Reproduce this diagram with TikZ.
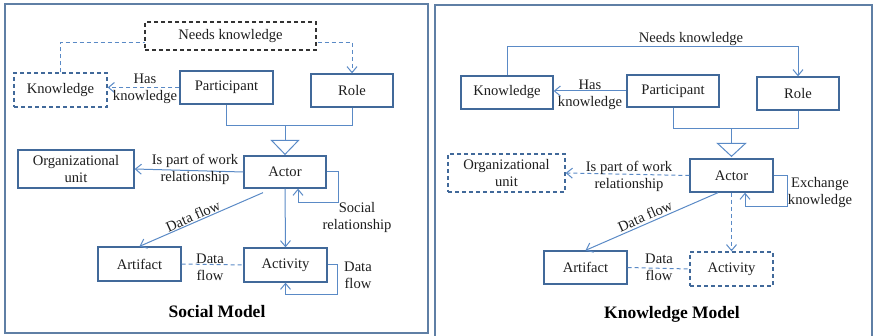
\documentclass[tikz,border=0pt]{standalone}
\usepackage{fontspec}
\setmainfont{Liberation Serif}
\usetikzlibrary{arrows.meta,calc}

\definecolor{boxblue}{HTML}{41699A}
\definecolor{lineblue}{HTML}{5A8AC6}
\definecolor{framegray}{HTML}{5F7FA5}
\definecolor{inkgray}{HTML}{1E1E1E}

\tikzset{
  box/.style={draw=boxblue, line width=1.3pt, inner sep=0pt, align=center,
    text=inkgray, font=\fontsize{14.6}{17}\selectfont},
  dbox/.style={box, dash pattern=on 4pt off 3pt},
  needsbox/.style={box, draw=black!80, line width=1.1pt, fill=white,
    dash pattern=on 4pt off 3pt},
  link/.style={draw=lineblue, line width=1pt},
  dlink/.style={link, dash pattern=on 4pt off 3pt},
  tip/.style={-{Straight Barb[length=6pt,width=10pt]}},
  lbl/.style={text=inkgray, font=\fontsize{14.6}{17}\selectfont, align=center, inner sep=0pt},
  title/.style={font=\fontsize{17.5}{20}\selectfont\bfseries, text=black, inner sep=0pt},
  panel/.style={draw=framegray, line width=1.5pt},
}

\begin{document}
\begin{tikzpicture}[x=1pt, y=-1pt]
\useasboundingbox (0,0) rectangle (873,336);

% ---------------- panel frames ----------------
\draw[panel] (5,4) rectangle (428,333);
\draw[panel] (435,5) rectangle (872,350);

% ================= Social model =================
\node[dbox, minimum width=93pt, minimum height=34pt] (K1) at (60.5,90) {Knowledge};
\node[box, minimum width=93pt, minimum height=33pt] (P1) at (226.5,87.5) {Participant};
\node[box, minimum width=82pt, minimum height=33pt] (R1) at (352,90.5) {Role};
\node[box, minimum width=116pt, minimum height=38pt] (O1) at (76,169) {Organizational\\unit};
\node[box, minimum width=82pt, minimum height=32pt] (A1) at (285,172) {Actor};
\node[box, minimum width=83pt, minimum height=34pt] (Art1) at (139.5,264) {Artifact};
\node[box, minimum width=83pt, minimum height=34pt] (Act1) at (285.5,265) {Activity};

% needs knowledge (dashed, label box drawn over the line)
\draw[dlink, tip] (K1.north) -- ++(0,-30) -| (R1.north);
\node[needsbox, minimum width=171pt, minimum height=28pt] (N1) at (230.5,36) {Needs knowledge};

% has knowledge
\draw[dlink, tip] (P1.west) -- (K1.east |- P1.west);
\node[lbl] (hk1) at (145,88.5) {Has\\knowledge};

% generalisation of participant and role into actor
\coordinate (j1) at ($(A1.north)+(0,-30)$);
\draw[link] (P1.south) |- (j1) -| (R1.south);
\draw[link] (j1) -- ($(A1.north)+(0,-15)$);
\draw[link] ($(A1.north)+(-13.5,-15)$) -- ($(A1.north)+(13.5,-15)$) -- ($(A1.north)+(0,-1)$) -- cycle;

% is part of work relationship
\draw[link, tip] (A1.west) -- (O1.east);
\node[lbl] (pw1) at (195,169.5) {Is part of work\\relationship};

% social relationship loop
\draw[link, tip] (A1.east) -| ++(12,31) -| ($(A1.south)+(13,0)$);
\node[lbl] (sr1) at (357,217) {Social\\relationship};

% data flow actor -> artifact
\draw[link, tip] ($(A1.south)+(-22,4)$) -- (Art1.north);
\node[lbl, rotate=24] (df1) at (193,216) {Data flow};

% actor -> activity
\draw[link, tip] (A1.south) -- (Act1.north);

% artifact -- activity
\draw[dlink] (Art1.east) -- (Act1.west);
\node[lbl] (df2) at (210,267.5) {Data\\flow};

% activity loop
\draw[link, tip] (Act1.east) -| ++(10,30) -| (Act1.south);
\node[lbl] (df3) at (358,275) {Data\\flow};

\node[title] (T1) at (217,312) {Social Model};

% ================= Knowledge model =================
\node[box, minimum width=92pt, minimum height=33pt] (K2) at (507,92.5) {Knowledge};
\node[box, minimum width=92pt, minimum height=32pt] (P2) at (673,91) {Participant};
\node[box, minimum width=82pt, minimum height=33pt] (R2) at (798,93.5) {Role};
\node[dbox, minimum width=117pt, minimum height=38pt] (O2) at (506.5,173) {Organizational\\unit};
\node[box, minimum width=83pt, minimum height=33pt] (A2) at (731.5,175.5) {Actor};
\node[box, minimum width=83pt, minimum height=33pt] (Art2) at (585.5,267.5) {Artifact};
\node[dbox, minimum width=83pt, minimum height=34pt] (Act2) at (731.5,269) {Activity};

% needs knowledge
\draw[link, tip] (K2.north) -- ++(0,-29) -| (R2.north);
\node[lbl] (N2) at (691,39) {Needs knowledge};

% has knowledge
\draw[link, tip] (P2.west) -- (K2.east |- P2.west);
\node[lbl] (hk2) at (590,94.5) {Has\\knowledge};

% generalisation
\coordinate (j2) at ($(A2.north)+(0,-30)$);
\draw[link] (P2.south) |- (j2) -| (R2.south);
\draw[link] (j2) -- ($(A2.north)+(0,-15)$);
\draw[link] ($(A2.north)+(-14,-15)$) -- ($(A2.north)+(14,-15)$) -- ($(A2.north)+(0,-2)$) -- cycle;

% is part of work relationship
\draw[dlink, tip] (A2.west) -- (O2.east);
\node[lbl] (pw2) at (629,176) {Is part of work\\relationship};

% exchange knowledge loop
\draw[link, tip] (A2.east) -| ++(14,31) -| ($(A2.south)+(13.5,0)$);
\node[lbl] (ek2) at (820,193) {Exchange\\knowledge};

% data flow actor -> artifact
\draw[link, tip] ($(A2.south)+(-13.5,0)$) -- (Art2.north);
\node[lbl, rotate=24] (df4) at (645,216) {Data flow};

% actor -> activity
\draw[dlink, tip] (A2.south) -- (Act2.north);

% artifact -- activity
\draw[dlink] (Art2.east) -- (Act2.west);
\node[lbl] (df5) at (659,267.5) {Data\\flow};

\node[title] (T2) at (672,314) {Knowledge Model};
\end{tikzpicture}
\end{document}
